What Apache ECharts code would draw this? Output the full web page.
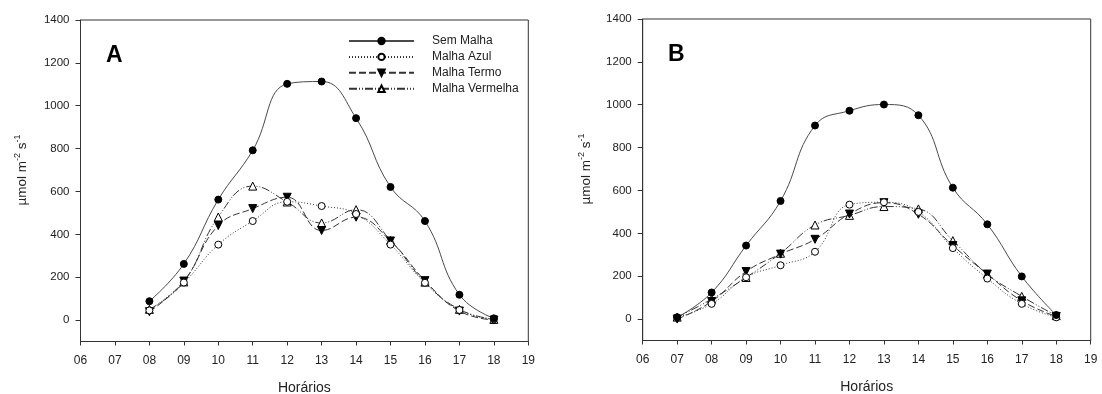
<!DOCTYPE html>
<html>
<head>
<meta charset="utf-8">
<script src="https://cdn.jsdelivr.net/npm/echarts@6/dist/echarts.min.js"></script>
<style>
html,body{margin:0;padding:0;background:#fff;}
#chart{width:1102px;height:394px;}
</style>
</head>
<body>
<div id="chart"></div>
<script>
// ---- data ----
const seriesNames = ['Sem Malha', 'Malha Azul', 'Malha Termo', 'Malha Vermelha'];
const hoursA = [8, 9, 10, 11, 12, 13, 14, 15, 16, 17, 18];
const semMalhaA     = [88, 262, 562, 792, 1102, 1113, 942, 621, 462, 118, 8];
const malhaAzulA    = [45, 175, 352, 462, 552, 532, 495, 352, 174, 47, 3];
const malhaTermoA   = [39, 182, 441, 520, 573, 418, 480, 369, 184, 42, 0];
const malhaVermelhaA= [50, 178, 481, 625, 551, 453, 515, 372, 177, 50, 3];

const hoursB = [7, 8, 9, 10, 11, 12, 13, 14, 15, 16, 17, 18];
const semMalhaB     = [8, 124, 343, 551, 903, 972, 1001, 951, 613, 442, 199, 19];
const malhaAzulB    = [8, 71, 195, 251, 314, 534, 545, 500, 331, 189, 71, 8];
const malhaTermoB   = [0, 82, 222, 303, 372, 490, 543, 489, 343, 210, 85, 12];
const malhaVermelhaB= [9, 93, 194, 307, 439, 484, 525, 514, 366, 210, 106, 16];

const xTicks = [6, 7, 8, 9, 10, 11, 12, 13, 14, 15, 16, 17, 18, 19];
const yTicks = [0, 200, 400, 600, 800, 1000, 1200, 1400];
const yMin = -100, yMax = 1400;
const xMin = 6, xMax = 19;
const panelLabels = ['A', 'B'];
const xTitle = 'Horários';

// ---- styles ----
const FONT = "'Liberation Sans', Arial, sans-serif";
const TXT = '#222';
const AX = '#333';

const seriesStyles = [
  { symbol: 'circle', symbolSize: 7, symbolRotate: 0, color: '#000', fill: '#000', lineType: 'solid', lineColor: '#4a4a4a' },
  { symbol: 'circle', symbolSize: 7, symbolRotate: 0, color: '#000', fill: '#fff', lineType: [1, 2], lineColor: '#333' },
  { symbol: 'triangle', symbolSize: 8, symbolRotate: 180, color: '#000', fill: '#000', lineType: [7, 3], lineColor: '#333' },
  { symbol: 'triangle', symbolSize: 8, symbolRotate: 0, color: '#000', fill: '#fff', lineType: [8, 2, 1, 2, 1, 2], lineColor: '#333' }
];

const dataA = [semMalhaA, malhaAzulA, malhaTermoA, malhaVermelhaA];
const dataB = [semMalhaB, malhaAzulB, malhaTermoB, malhaVermelhaB];

function pair(xs, ys) { return xs.map((x, i) => [x, ys[i]]); }

function makeSeries(idx, xs, sets) {
  return sets.map((ys, k) => {
    const st = seriesStyles[k];
    return {
      name: seriesNames[k],
      type: 'line',
      xAxisIndex: idx, yAxisIndex: idx,
      data: pair(xs, ys),
      smooth: 0.45,
      symbol: st.symbol,
      symbolSize: st.symbolSize,
      symbolRotate: st.symbolRotate,
      showAllSymbol: true,
      z: 10 - k,
      lineStyle: { color: st.lineColor, width: 1, type: st.lineType },
      itemStyle: { color: st.fill, borderColor: st.color, borderWidth: 1 },
      emphasis: { disabled: true },
      animation: false
    };
  });
}

function xAxis(idx) {
  return {
    type: 'value', gridIndex: idx, min: xMin, max: xMax, interval: 1,
    name: xTitle, nameLocation: 'middle', nameGap: 40,
    nameTextStyle: { fontFamily: FONT, fontSize: 14, color: TXT },
    axisLine: { show: true, onZero: false, lineStyle: { color: AX, width: 1 } },
    axisTick: { show: true, inside: false, length: 4, lineStyle: { color: AX } },
    axisLabel: { fontFamily: FONT, fontSize: 12, color: TXT, margin: 13.5,
      formatter: v => (v < 10 ? '0' : '') + v },
    splitLine: { show: false }
  };
}

function yAxis(idx) {
  return {
    type: 'value', gridIndex: idx, min: yMin, max: yMax, interval: 100,
    axisLine: { show: true, onZero: false, lineStyle: { color: AX, width: 1 } },
    axisTick: { show: true, inside: false, length: 5, lineStyle: { color: AX }, customValues: yTicks },
    axisLabel: { fontFamily: FONT, fontSize: 11.5, color: TXT, margin: 11, customValues: yTicks,
      formatter: v => (v >= 0 && v % 200 === 0) ? String(v) : '' },
    splitLine: { show: false }
  };
}

const chart = echarts.init(document.getElementById('chart'), null, { renderer: 'canvas' });

const yTitleRich = {
  n: { fontFamily: FONT, fontSize: 13.5, fill: TXT, color: TXT },
  s: { fontFamily: FONT, fontSize: 9, fill: TXT, color: TXT, padding: [0, 0, 9, 0] }
};
const yTitleText = '{n|µmol m}{s|-2}{n| s}{s|-1}';

const option = {
  backgroundColor: '#fff',
  animation: false,
  grid: [
    { left: 80.5, right: 573.7, top: 20, bottom: 52.5, outerBoundsMode: 'none', containLabel: false,
      show: true, borderColor: AX, borderWidth: 1, backgroundColor: 'transparent' },
    { left: 642.7, right: 11.3, top: 19, bottom: 53.5, outerBoundsMode: 'none', containLabel: false,
      show: true, borderColor: AX, borderWidth: 1, backgroundColor: 'transparent' }
  ],
  xAxis: [xAxis(0), xAxis(1)],
  yAxis: [yAxis(0), yAxis(1)],
  legend: {
    data: seriesNames,
    orient: 'vertical',
    left: 348, top: 35,
    padding: 0,
    itemWidth: 65, itemHeight: 8, itemGap: 3.9,
    selectedMode: false,
    textStyle: { fontFamily: FONT, fontSize: 12, color: TXT, padding: [0, 0, 0, 13] }
  },
  graphic: [
    { type: 'text', left: 106, top: 44, style: { text: panelLabels[0], font: "bold 23px " + FONT, fill: '#000' } },
    { type: 'text', left: 668, top: 43, style: { text: panelLabels[1], font: "bold 23px " + FONT, fill: '#000' } },
    { type: 'text', x: 22, y: 170, rotation: Math.PI / 2,
      style: { text: yTitleText, rich: yTitleRich, align: 'center', verticalAlign: 'middle' } },
    { type: 'text', x: 586, y: 169, rotation: Math.PI / 2,
      style: { text: yTitleText, rich: yTitleRich, align: 'center', verticalAlign: 'middle' } }
  ],
  series: [].concat(makeSeries(0, hoursA, dataA), makeSeries(1, hoursB, dataB))
};
chart.setOption(option);
</script>
</body>
</html>
